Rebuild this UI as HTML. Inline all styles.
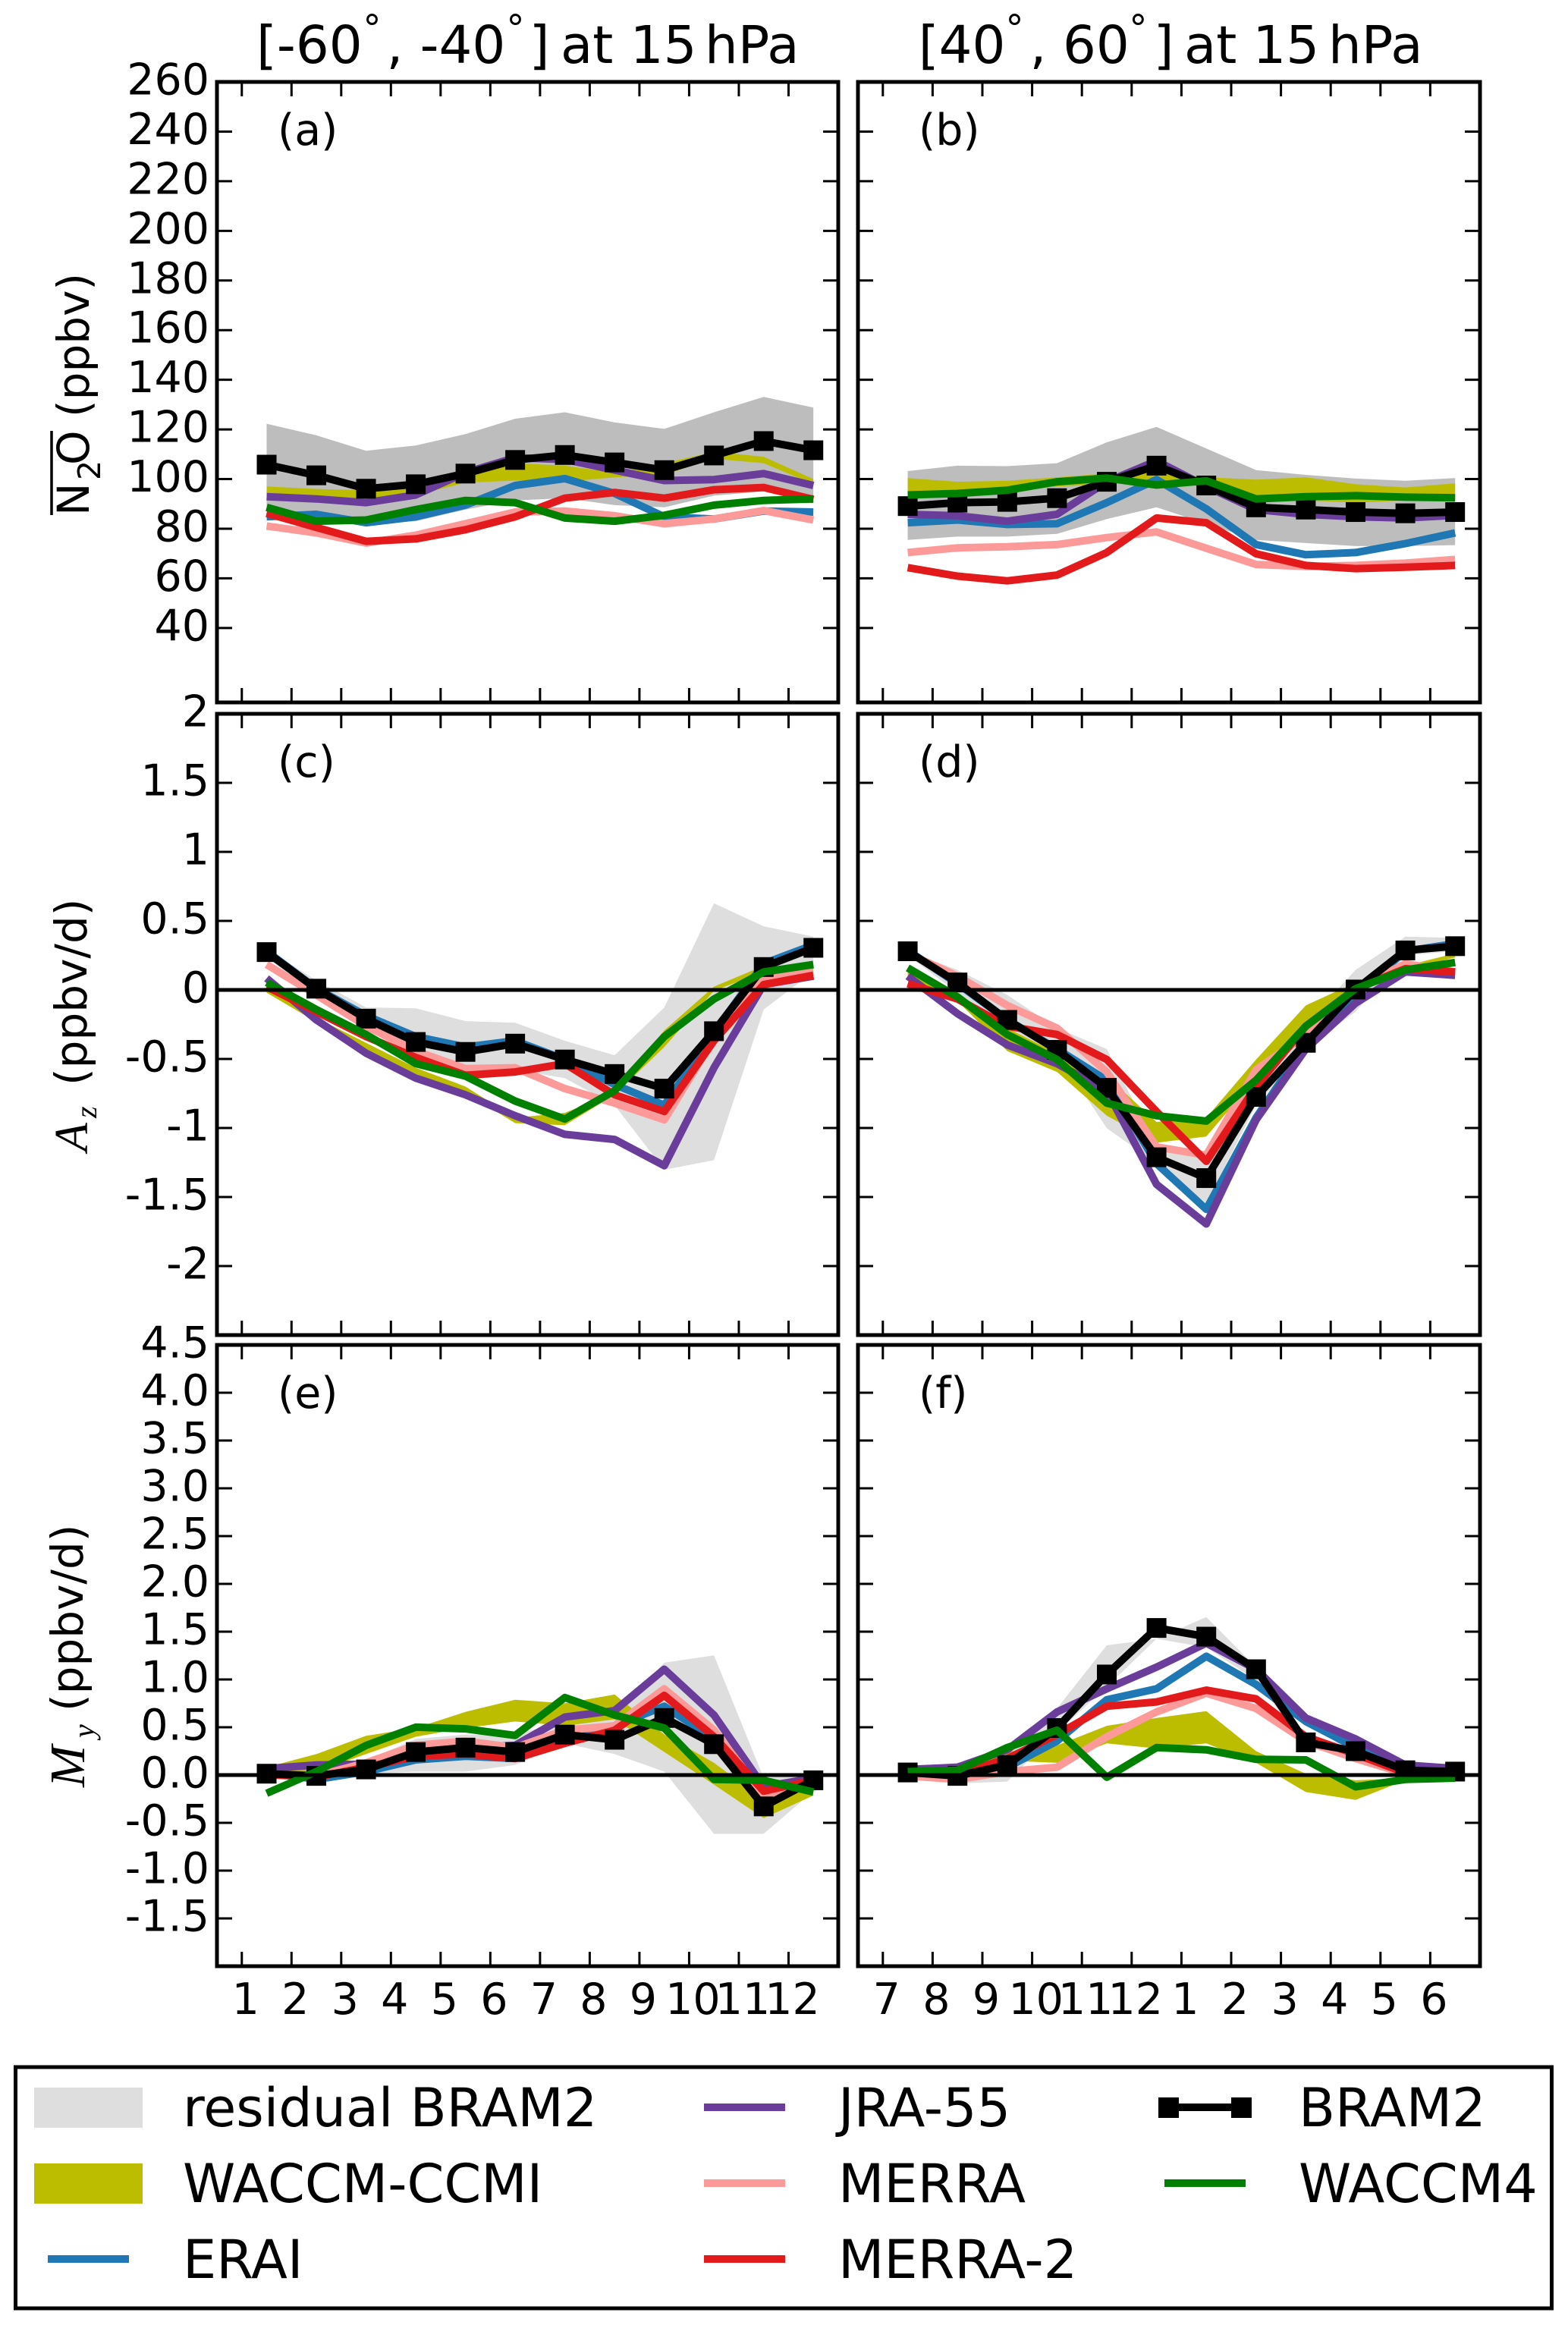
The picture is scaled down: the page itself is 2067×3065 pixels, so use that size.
<!DOCTYPE html>
<html lang="en">
<head>
<meta charset="utf-8">
<title>N2O budget at 15 hPa</title>
<style>
html,body{margin:0;padding:0;background:#fff;width:2067px;height:3065px;overflow:hidden}
svg{display:block}
text{font-family:"DejaVu Sans","Liberation Sans",sans-serif;fill:#000}
.title{font-size:69px}
.deg{font-size:48px}
.yl{font-size:58px}
.math{font-family:"Liberation Serif",serif;font-style:italic}
.leg{font-size:70px}
.tick-label{font-size:57px}
.panel-label{font-size:57px}
</style>
</head>
<body>
<svg id="figure" xmlns="http://www.w3.org/2000/svg" width="2067" height="3065" viewBox="0 0 2067 3065">
  <rect width="2067" height="3065" fill="#fff"/>

  <g>
    <text class="title" x="338" y="83">[-60</text>
    <text class="deg" x="478.5" y="54">°</text>
    <text class="title" x="509.5" y="83">,</text>
    <text class="title" x="553.6" y="83">-40</text>
    <text class="deg" x="667.5" y="54">°</text>
    <text class="title" x="697.6" y="83">]</text>
    <text class="title" x="739" y="83">at</text>
    <text class="title" x="830.7" y="83">15</text>
    <text class="title" x="929" y="83">hPa</text>
  </g>
  <g>
    <text class="title" x="1210.7" y="83">[40</text>
    <text class="deg" x="1325.5" y="54">°</text>
    <text class="title" x="1357.5" y="83">,</text>
    <text class="title" x="1401" y="83">60</text>
    <text class="deg" x="1488.4" y="54">°</text>
    <text class="title" x="1520.6" y="83">]</text>
    <text class="title" x="1561" y="83">at</text>
    <text class="title" x="1651.4" y="83">15</text>
    <text class="title" x="1751" y="83">hPa</text>
  </g>

  <g id="panels"></g>

  <g>
    <text class="yl" transform="translate(117,680) rotate(-90)">N</text>
    <text style="font-size:41px" transform="translate(132,633) rotate(-90)">2</text>
    <text class="yl" transform="translate(117,613) rotate(-90)">O</text>
    <line x1="68" y1="568" x2="68" y2="679" stroke="#000" stroke-width="3.5"/>
    <text class="yl" transform="translate(117,550) rotate(-90)">(ppbv)</text>
  </g>
  <g>
    <text class="math" style="font-size:62px" transform="translate(115,1518) rotate(-90)">A</text>
    <text class="math" style="font-size:40px" transform="translate(127,1474) rotate(-90)">z</text>
    <text class="yl" transform="translate(114,1431) rotate(-90)">(ppbv/d)</text>
  </g>
  <g>
    <text class="math" style="font-size:66px" transform="translate(111,2356) rotate(-90)">M</text>
    <text class="math" style="font-size:40px" transform="translate(124,2291) rotate(-90)">y</text>
    <text class="yl" transform="translate(109,2256) rotate(-90)">(ppbv/d)</text>
  </g>

  <g>
    <rect x="20.5" y="2725" width="2025" height="318" fill="#fff" stroke="#000" stroke-width="5"/>
    <g>
      <rect x="45" y="2752" width="143" height="53" fill="#dedede"/>
      <text class="leg" x="241" y="2803">residual BRAM2</text>
    </g>
    <g>
      <rect x="45" y="2852" width="143" height="53" fill="#bdbd00"/>
      <text class="leg" x="241" y="2903">WACCM-CCMI</text>
    </g>
    <g>
      <rect x="63" y="2973" width="107" height="10" fill="#1f78b4"/>
      <text class="leg" x="241" y="3003">ERAI</text>
    </g>
    <g>
      <rect x="928" y="2773" width="107" height="10" fill="#6a3d9a"/>
      <text class="leg" x="1105" y="2803">JRA-55</text>
    </g>
    <g>
      <rect x="928" y="2873" width="107" height="10" fill="#fb9a99"/>
      <text class="leg" x="1105" y="2903">MERRA</text>
    </g>
    <g>
      <rect x="928" y="2973" width="107" height="10" fill="#e31a1c"/>
      <text class="leg" x="1105" y="3003">MERRA-2</text>
    </g>
    <g>
      <rect x="1535" y="2773" width="107" height="10" fill="#000"/>
      <rect x="1527" y="2765" width="27" height="27" fill="#000"/>
      <rect x="1623" y="2765" width="27" height="27" fill="#000"/>
      <text class="leg" x="1712" y="2803">BRAM2</text>
    </g>
    <g>
      <rect x="1535" y="2873" width="107" height="10" fill="#008000"/>
      <text class="leg" x="1712" y="2903">WACCM4</text>
    </g>
  </g>
</svg>

<script>
// Tick labels
const monthsSouth = ['1','2','3','4','5','6','7','8','9','10','11','12'];
const monthsNorth = ['7','8','9','10','11','12','1','2','3','4','5','6'];
const n2oTicks = ['260','240','220','200','180','160','140','120','100','80','60','40'];
const azTicks = ['2','1.5','1','0.5','0','-0.5','-1','-1.5','-2'];
const myTicks = ['4.5','4.0','3.5','3.0','2.5','2.0','1.5','1.0','0.5','0.0','-0.5','-1.0','-1.5'];

// Panel (a)
const aGreyHi = [122.3,117.6,111.4,113.5,118.1,124.3,126.9,122.8,120.2,126.9,133.1,128.8];
const aGreyLo = [85,83,82,83,87.7,91.4,92.3,89.5,88.6,93.3,95,93];
const aYellowHi = [97,96,95.5,98,101.7,106.4,105.4,102.6,106.4,111,109,100];
const aYellowLo = [94.2,92.9,91.8,93.6,98.5,99.4,98.9,100.7,101.7,108.2,106.4,97.9];
const aErai = [84.8,85.8,82.4,84.8,89.5,97.4,100.2,94.2,84.8,83.9,87.1,86.7];
const aJra = [92.9,92,90.5,93.6,102.6,108.6,107.9,103.6,99.4,99.8,102.2,97.4];
const aMerra = [81.1,78.3,74.2,77.4,82,86.7,87.1,85.2,82,83.9,87.3,83.5];
const aMerra2 = [86.2,80.5,74.9,75.9,79.6,84.8,92.3,94.6,92.3,95.7,96.6,91.8];
const aBram = [105.8,101.5,96.1,97.9,102.2,107.7,109.7,106.7,103.6,109.5,115.3,111.6];
const aWaccm = [88.6,83,83.5,87.7,91.4,90.5,84.3,83,85.4,89.5,91.4,92];

// Panel (b)
const bGreyHi = [103.2,105.4,105.2,106.4,114.8,121,112.3,103.6,101.7,100.2,99.3,100.4];
const bGreyLo = [75.5,76.8,76.8,77.9,83.9,88.6,82,75.5,74.2,73,73,73.4];
const bYellowHi = [100.4,98.9,99.3,100.7,102.2,103,100.7,99.8,100.7,97.9,96.6,98.3];
const bYellowLo = [95.1,94.2,95.1,97,97.9,98.9,97.9,93.3,91.4,90.5,91.4,91.8];
const bErai = [82.4,83.5,81.7,82,90.5,99.8,88,73.6,69.5,70.4,74,78.3];
const bJra = [85.8,85.2,83,85.8,98.9,107.3,97,87.7,85.8,84.8,84.3,85.4];
const bMerra = [70.4,72.3,72.7,73.6,76.4,78.7,72.1,65.6,64.8,65.2,66.1,67.6];
const bMerra2 = [64.3,60.9,59,61.3,70.4,84.3,82.4,69.9,65.2,63.9,64.5,65.2];
const bBram = [89.1,90.5,90.8,92.3,98.9,105.4,97.4,88.6,87.7,86.7,86.2,86.7];
const bWaccm = [93.6,94.2,95.5,98.9,100.4,97.6,99.3,92,92.9,93.3,92.7,92.5];

// Panel (c)
const cGreyHi = [.296,.069,-.127,-.133,-.226,-.238,-.368,-.473,-.127,.627,.461,.386];
const cGreyLo = [.235,-.051,-.262,-.413,-.564,-.579,-.639,-.835,-1.303,-1.233,-.142,.13];
const cYellowHi = [.009,-.202,-.383,-.564,-.7,-.926,-.89,-.745,-.293,.024,.175,.175];
const cYellowLo = [-.021,-.232,-.428,-.609,-.745,-.965,-.98,-.76,-.413,-.006,.13,.115];
const cErai = [.28,.01,-.187,-.338,-.413,-.368,-.504,-.685,-.835,-.308,.19,.326];
const cJra = [.084,-.217,-.458,-.639,-.76,-.911,-1.046,-1.083,-1.273,-.564,.039,.1];
const cMerra = [.184,-.036,-.262,-.443,-.57,-.564,-.715,-.82,-.941,-.353,.084,.13];
const cMerra2 = [.024,-.157,-.338,-.489,-.618,-.594,-.534,-.76,-.881,-.368,.039,.106];
const cBram = [.274,.009,-.208,-.377,-.449,-.389,-.504,-.609,-.715,-.299,.166,.305];
const cWaccm = [.054,-.142,-.323,-.534,-.624,-.805,-.935,-.73,-.338,-.066,.13,.184];

// Panel (d)
const dGreyHi = [.28,.145,-.036,-.277,-.428,-1.137,-1.212,-.624,-.247,.145,.386,.377];
const dGreyLo = [.25,-.021,-.368,-.458,-1.001,-1.258,-1.544,-.835,-.428,-.157,.25,.28];
const dYellowHi = [.13,-.036,-.277,-.458,-.624,-.956,-.926,-.504,-.112,.054,.175,.265];
const dYellowLo = [.1,-.081,-.443,-.594,-.911,-1.107,-1.062,-.639,-.262,-.021,.145,.235];
const dErai = [.286,.045,-.217,-.428,-.654,-1.258,-1.589,-.926,-.398,-.021,.28,.335];
const dJra = [.1,-.172,-.398,-.534,-.73,-1.408,-1.695,-.941,-.428,-.096,.13,.106];
const dMerra = [.265,.1,-.112,-.277,-.594,-1.137,-1.197,-.579,-.326,.009,.19,.13];
const dMerra2 = [.045,-.066,-.262,-.323,-.504,-.881,-1.242,-.7,-.262,.009,.154,.13];
const dBram = [.28,.054,-.217,-.434,-.709,-1.212,-1.363,-.775,-.383,.003,.286,.317];
const dWaccm = [.16,-.051,-.323,-.504,-.82,-.911,-.95,-.654,-.262,.009,.145,.199];

// Panel (e)
const eGreyHi = [.036,.036,.15,.378,.424,.424,.56,.606,1.175,1.252,-.032,.014];
const eGreyLo = [-.032,-.032,.014,.036,.036,.105,.332,.219,.036,-.615,-.615,-.168];
const eYellowHi = [.082,.219,.41,.492,.66,.788,.751,.842,.424,.128,-.26,-.077];
const eYellowLo = [-.009,.036,.219,.401,.492,.56,.515,.583,.241,-.1,-.451,-.214];
const eErai = [.036,-.046,.036,.159,.196,.173,.401,.515,.72,.378,-.168,-.032];
const eJra = [.068,.105,.114,.241,.287,.31,.606,.674,1.107,.628,-.123,-.032];
const eMerra = [.014,-.009,.128,.31,.355,.287,.469,.515,.902,.469,-.214,-.055];
const eMerra2 = [.005,-.023,.082,.196,.219,.173,.332,.469,.833,.401,-.168,-.055];
const eBram = [.014,-.009,.059,.241,.287,.241,.423,.369,.597,.323,-.328,-.055];
const eWaccm = [-.191,.036,.31,.501,.483,.414,.811,.628,.492,-.046,-.055,-.178];

// Panel (f)
const fGreyHi = [.082,.128,.219,.697,1.357,1.425,1.653,1.129,.401,.31,.128,.114];
const fGreyLo = [-.009,-.087,-.068,.446,.924,1.425,1.334,.993,.287,.173,.014,.014];
const fYellowHi = [.036,.036,.241,.31,.515,.597,.669,.25,.014,-.055,-.032,-.009];
const fYellowLo = [.005,.014,.15,.128,.332,.278,.332,.128,-.178,-.26,-.055,-.032];
const fErai = [.036,.036,.082,.355,.788,.902,1.243,.947,.56,.287,.036,.036];
const fJra = [.059,.082,.264,.66,.902,1.129,1.38,1.107,.597,.378,.105,.068];
const fMerra = [-.009,-.046,.036,.082,.401,.66,.856,.697,.355,.173,.014,.023];
const fMerra2 = [.023,.005,.173,.423,.72,.765,.888,.797,.401,.219,.023,.036];
const fBram = [.027,-.009,.105,.492,1.052,1.539,1.448,1.107,.342,.25,.05,.036];
const fWaccm = [.036,.05,.287,.469,-.023,.287,.264,.164,.159,-.123,-.046,-.032];

const NS = 'http://www.w3.org/2000/svg';
const root = document.getElementById('panels');

function node(tag, parent, attrs) {
  const el = document.createElementNS(NS, tag);
  for (const k in attrs) el.setAttribute(k, attrs[k]);
  parent.appendChild(el);
  return el;
}

function drawPanel(p) {
  const g = node('g', root, {});
  
  

  const xAxis = v => p.x + ((v - 0.5) / 12.5) * p.w;
  const yAxis = v => p.y + ((p.yMax - v) / (p.yMax - p.yMin)) * p.h;
  const pts = arr => arr.map((v, i) => xAxis(i + 1.5).toFixed(1) + ',' + yAxis(v).toFixed(1));

  const shade = (hi, lo, color, name) => {
    const poly = node('polygon', g, { points: pts(hi).concat(pts(lo).reverse()).join(' '), fill: color });
    
    
  };
  shade(p.greyHi, p.greyLo, p.greyColor, 'residual-bram2-range-' + p.id);
  shade(p.yellowHi, p.yellowLo, '#bdbd00', 'waccm-ccmi-range-' + p.id);

  const series = (arr, color, name, width) => {
    const line = node('polyline', g, { points: pts(arr).join(' '), fill: 'none', stroke: color, 'stroke-width': width, 'stroke-linejoin': 'round' });
    
    
  };
  series(p.erai, '#1f78b4', 'erai-line-' + p.id, 10);
  series(p.jra, '#6a3d9a', 'jra-55-line-' + p.id, 10);
  series(p.merra, '#fb9a99', 'merra-line-' + p.id, 10);
  series(p.merra2, '#e31a1c', 'merra-2-line-' + p.id, 10);
  series(p.bram, '#000', 'bram2-line-' + p.id, 10);
  p.bram.forEach((v, i) => {
    const m = node('rect', g, { x: xAxis(i + 1.5) - 13, y: yAxis(v) - 13, width: 26, height: 26, fill: '#000' });
    
    
  });
  series(p.waccm, '#008000', 'waccm4-line-' + p.id, 10);

  if (p.zero) {
    const z = node('line', g, { x1: p.x, x2: p.x + p.w, y1: yAxis(0), y2: yAxis(0), stroke: '#000', 'stroke-width': 5 });
    
    
  }

  // y ticks
  p.yTicks.forEach(t => {
    const y = yAxis(parseFloat(t));
    node('line', g, { x1: p.x, x2: p.x + 20, y1: y, y2: y, stroke: '#000', 'stroke-width': 3 });
    node('line', g, { x1: p.x + p.w - 20, x2: p.x + p.w, y1: y, y2: y, stroke: '#000', 'stroke-width': 3 });
    if (p.showY) {
      const lab = node('text', g, { x: p.x - 10, y: y + 16.5, 'text-anchor': 'end', class: 'tick-label' });
      lab.textContent = t;
      
      
    }
  });
  // x ticks
  p.months.forEach((m, i) => {
    const x = xAxis(i + 1);
    node('line', g, { x1: x, x2: x, y1: p.y, y2: p.y + 19, stroke: '#000', 'stroke-width': 3 });
    node('line', g, { x1: x, x2: x, y1: p.y + p.h - 19, y2: p.y + p.h, stroke: '#000', 'stroke-width': 3 });
    if (p.showX) {
      const lab = node('text', g, { x: x + 5, y: p.y + p.h + 63, 'text-anchor': 'middle', class: 'tick-label' });
      lab.textContent = m;
      
      
    }
  });

  const frame = node('rect', g, { x: p.x, y: p.y, width: p.w, height: p.h, fill: 'none', stroke: '#000', 'stroke-width': 5 });
  
  

  const tag = node('text', g, { x: p.x + 80, y: p.y + 83, class: 'panel-label' });
  tag.textContent = '(' + p.id + ')';
  
  
}

const LEFT = { x: 286, w: 819 };
const RIGHT = { x: 1131, w: 820 };
const GREY_DARK = '#bdbdbd';
const GREY_LIGHT = '#dedede';

drawPanel({ id: 'a', x: LEFT.x, w: LEFT.w, y: 108, h: 818, yMax: 260, yMin: 10, yTicks: n2oTicks, months: monthsSouth, showY: true, showX: false, zero: false, greyColor: GREY_DARK,
  greyHi: aGreyHi, greyLo: aGreyLo, yellowHi: aYellowHi, yellowLo: aYellowLo, erai: aErai, jra: aJra, merra: aMerra, merra2: aMerra2, bram: aBram, waccm: aWaccm });
drawPanel({ id: 'b', x: RIGHT.x, w: RIGHT.w, y: 108, h: 818, yMax: 260, yMin: 10, yTicks: n2oTicks, months: monthsNorth, showY: false, showX: false, zero: false, greyColor: GREY_DARK,
  greyHi: bGreyHi, greyLo: bGreyLo, yellowHi: bYellowHi, yellowLo: bYellowLo, erai: bErai, jra: bJra, merra: bMerra, merra2: bMerra2, bram: bBram, waccm: bWaccm });
drawPanel({ id: 'c', x: LEFT.x, w: LEFT.w, y: 941, h: 819, yMax: 2, yMin: -2.5, yTicks: azTicks, months: monthsSouth, showY: true, showX: false, zero: true, greyColor: GREY_LIGHT,
  greyHi: cGreyHi, greyLo: cGreyLo, yellowHi: cYellowHi, yellowLo: cYellowLo, erai: cErai, jra: cJra, merra: cMerra, merra2: cMerra2, bram: cBram, waccm: cWaccm });
drawPanel({ id: 'd', x: RIGHT.x, w: RIGHT.w, y: 941, h: 819, yMax: 2, yMin: -2.5, yTicks: azTicks, months: monthsNorth, showY: false, showX: false, zero: true, greyColor: GREY_LIGHT,
  greyHi: dGreyHi, greyLo: dGreyLo, yellowHi: dYellowHi, yellowLo: dYellowLo, erai: dErai, jra: dJra, merra: dMerra, merra2: dMerra2, bram: dBram, waccm: dWaccm });
drawPanel({ id: 'e', x: LEFT.x, w: LEFT.w, y: 1773, h: 819, yMax: 4.5, yMin: -2, yTicks: myTicks, months: monthsSouth, showY: true, showX: true, zero: true, greyColor: GREY_LIGHT,
  greyHi: eGreyHi, greyLo: eGreyLo, yellowHi: eYellowHi, yellowLo: eYellowLo, erai: eErai, jra: eJra, merra: eMerra, merra2: eMerra2, bram: eBram, waccm: eWaccm });
drawPanel({ id: 'f', x: RIGHT.x, w: RIGHT.w, y: 1773, h: 819, yMax: 4.5, yMin: -2, yTicks: myTicks, months: monthsNorth, showY: false, showX: true, zero: true, greyColor: GREY_LIGHT,
  greyHi: fGreyHi, greyLo: fGreyLo, yellowHi: fYellowHi, yellowLo: fYellowLo, erai: fErai, jra: fJra, merra: fMerra, merra2: fMerra2, bram: fBram, waccm: fWaccm });
</script>
</body>
</html>
